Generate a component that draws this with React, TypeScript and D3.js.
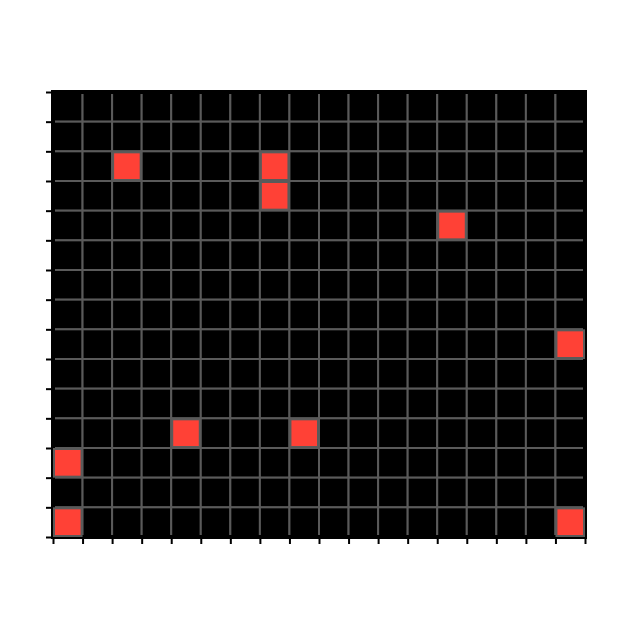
import {useLayoutEffect, useRef} from 'react'
import * as d3 from 'd3'

const WIDTH = 629
const HEIGHT = 629
const MARGIN = {top: 92, right: 44, bottom: 92, left: 53}

const COLS = 18
const ROWS = 15

// live cells: column index and row index (row 0 = top)
const liveCols = [2, 7, 7, 13, 17, 4, 8, 0, 0, 17]
const liveRows = [2, 2, 3, 4, 8, 11, 11, 12, 14, 14]

const colIdx = d3.range(COLS)
const rowIdx = d3.range(ROWS)

export default function App() {
  const axesRef = useRef(null)
  const boundsWidth = WIDTH - MARGIN.left - MARGIN.right
  const boundsHeight = HEIGHT - MARGIN.top - MARGIN.bottom

  const xScale = d3.scaleLinear().domain([0, COLS]).range([0, boundsWidth])
  const yScale = d3.scaleLinear().domain([0, ROWS]).range([0, boundsHeight])

  const live = liveCols.map((c, i) => ({c, r: liveRows[i]}))

  useLayoutEffect(() => {
    const g = d3.select(axesRef.current)
    g.selectAll('*').remove()
    const xAxis = d3.axisBottom(xScale).tickValues(d3.range(COLS + 1)).tickFormat(() => '').tickSize(7).tickSizeOuter(0)
    const yAxis = d3.axisLeft(yScale).tickValues(d3.range(ROWS + 1)).tickFormat(() => '').tickSize(7).tickSizeOuter(0)
    const gx = g.append('g').attr('transform', `translate(0,${boundsHeight})`).call(xAxis)
    const gy = g.append('g').call(yAxis)
    for (const a of [gx, gy]) {
      a.select('.domain').remove()
      a.selectAll('line').attr('stroke', '#000').attr('stroke-width', 2)
    }
  }, [boundsHeight])

  return (
    <svg width={WIDTH} height={HEIGHT} style={{position: 'absolute', left: 0, top: 0}}>
      <rect width={WIDTH} height={HEIGHT} fill="#fff" />
      <g transform={`translate(${MARGIN.left},${MARGIN.top})`}>
        <rect x={-1} y={-1.5} width={boundsWidth + 3} height={boundsHeight + 2} fill="#000" />
        {rowIdx.map(r =>
          colIdx.map(c => (
            <rect
              key={`${r}-${c}`}
              x={xScale(c)}
              y={yScale(r)}
              width={xScale(1) - xScale(0)}
              height={yScale(1) - yScale(0)}
              fill="#000"
              stroke="#5a5a5a"
              strokeWidth={2}
            />
          ))
        )}
        <rect
          x={0}
          y={0}
          width={boundsWidth}
          height={boundsHeight}
          fill="none"
          stroke="#000"
          strokeWidth={4}
        />
        {live.map((d, i) => (
          <rect
            key={i}
            x={xScale(d.c) + 1}
            y={yScale(d.r) + 1}
            width={xScale(1) - xScale(0) - 2}
            height={yScale(1) - yScale(0) - 2}
            fill="#ff4136"
            stroke="#5a5a5a"
            strokeWidth={2}
          />
        ))}
        <g ref={axesRef} />
      </g>
    </svg>
  )
}
